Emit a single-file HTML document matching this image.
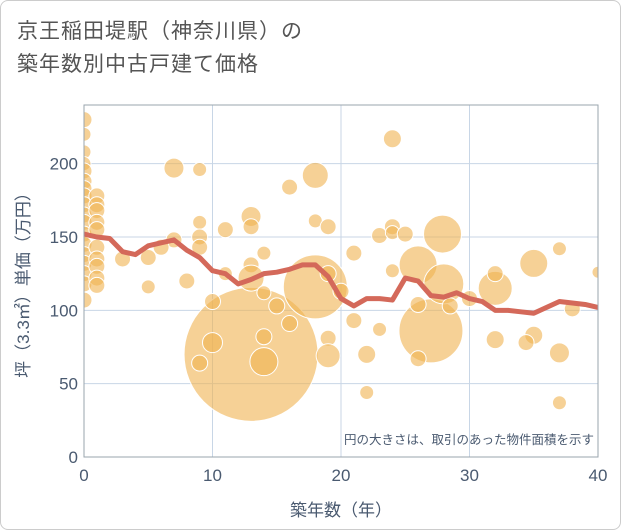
<!DOCTYPE html>
<html><head><meta charset="utf-8"><style>
body{margin:0;background:#fff;font-family:"Liberation Sans","Noto Sans CJK JP",sans-serif;}
#wrap{position:relative;width:619px;height:528px;border:1px solid #ccc;border-radius:8px;overflow:hidden;background:#fff}
.title{position:absolute;left:16px;top:14px;font-size:21px;line-height:33px;color:#555;letter-spacing:1px}
</style></head><body>
<div id="wrap">
<div class="title">京王稲田堤駅（神奈川県）の<br>築年数別中古戸建て価格</div>
<svg id="chart" width="621" height="530" style="position:absolute;left:0;top:0">
<defs><clipPath id="plotclip"><rect x="83" y="104" width="514" height="352"/></clipPath></defs>
</svg>
</div>
<script>
const xTicks=[0,10,20,30,40];
const yTicks=[0,50,100,150,200];
const lineYears=[0,1,2,3,4,5,6,7,8,9,10,11,12,13,14,15,16,17,18,19,20,21,22,23,24,25,26,27,28,29,30,31,32,33,34,35,36,37,38,39,40];
const lineValues=[152,150,149,140,138,144,146,148,141,136,127,125,118,121,125,126,128,131,131,123,108,103,108,108,107,122,120,110,109,112,108,106,100,100,99,98,102,106,105,104,102];
const bubbleYears=[13,18,27,27.9,26,28,32,35,37,37,37,35,34.4,32,24,22,22,23,21,23,24,24,25,24,21,40,38,32,26,26,28.5,30,7,9,18,16,13,13,11,9,9,9,18,19,7,6,5,3,5,8,11,13,14,13,10,14,15,16,10,9,14,14,19,19,19,20,0,0,0,0,0,0,0,0,0,0,0,0,0,0,0,0,0,0,1,1,1,1,1,1,1,1,1,1];
const bubbleValues=[70,116,86,152,131,118,115,132,142,37,71,83,78,80,217,44,70,87,139,151,157,153,152,127,93,126,101,125,67,104,103,108,197,196,192,184,164,157,155,160,150,143,161,157,148,143,136,135,116,120,125,131,139,122,106,112,103,91,78,64,82,65,81,69,125,113,230,220,208,200,195,188,183,178,172,165,160,152,145,138,132,125,118,107,178,172,168,160,155,143,135,130,122,117];
const bubbleRadii=[67,32,32,19,19,20,17,14,7,7,10,9,8,9,9,7,9,7,8,8,8,7,8,7,8,6,8,8,8,8,8,8,10,7,13,8,10,8,8,7,8,8,7,8,8,8,8,8,7,8,7,8,7,13,8,7,8,8,10,8,8,14,8,12,8,8,8,7,7,7,8,8,8,8,8,8,8,8,8,8,8,8,8,8,8,8,8,8,8,8,8,8,8,8];
const L=83,R=597,T=104,B=456;
const xS=v=>L+(v/40)*(R-L);
const yS=v=>B-(v/240)*(B-T);
const NS="http://www.w3.org/2000/svg";
const svg=document.getElementById('chart');
function mk(tag,attrs,parent){const e=document.createElementNS(NS,tag);for(const k in attrs)e.setAttribute(k,attrs[k]);(parent||svg).appendChild(e);return e;}
const grid=mk('g',{});


xTicks.forEach(t=>{const l=mk('line',{x1:xS(t),x2:xS(t),y1:T,y2:B,stroke:'#c8d6e6','stroke-width':1},grid);


const tx=mk('text',{x:xS(t),y:B+24,'text-anchor':'middle','font-size':17,fill:'#4a5a70'});tx.textContent=t;

});
yTicks.forEach(t=>{const l=mk('line',{x1:L,x2:R,y1:yS(t),y2:yS(t),stroke:'#c8d6e6','stroke-width':1},grid);


const tx=mk('text',{x:L-6,y:yS(t)+6,'text-anchor':'end','font-size':17,fill:'#4a5a70'});tx.textContent=t;

});
const bg=mk('g',{'clip-path':'url(#plotclip)'});


bubbleYears.forEach((yr,i)=>{const c=mk('circle',{cx:xS(yr),cy:yS(bubbleValues[i]),r:bubbleRadii[i],fill:'rgba(240,178,80,0.6)',stroke:'#fff','stroke-width':1},bg);

});
const pts=lineYears.map((y,i)=>xS(y)+','+yS(lineValues[i])).join(' ');
const pl=mk('polyline',{points:pts,fill:'none',stroke:'#d4695a','stroke-width':5,'stroke-linejoin':'round','clip-path':'url(#plotclip)'});


const frame=mk('rect',{x:L,y:T,width:R-L,height:B-T,fill:'none',stroke:'#9aa4ae','stroke-width':1});


const note=mk('text',{x:593,y:443,'text-anchor':'end','font-size':12.5,fill:'#4a5a70'});note.textContent='円の大きさは、取引のあった物件面積を示す';


const xt=mk('text',{x:(L+R)/2,y:515,'text-anchor':'middle','font-size':17,fill:'#4a5a70'});xt.textContent='築年数（年）';


const yt=mk('text',{x:0,y:0,'text-anchor':'middle','font-size':17,fill:'#4a5a70',transform:'translate(28,'+((T+B)/2)+') rotate(-90)'});yt.textContent='坪（3.3㎡）単価（万円）';


</script>
</body></html>
